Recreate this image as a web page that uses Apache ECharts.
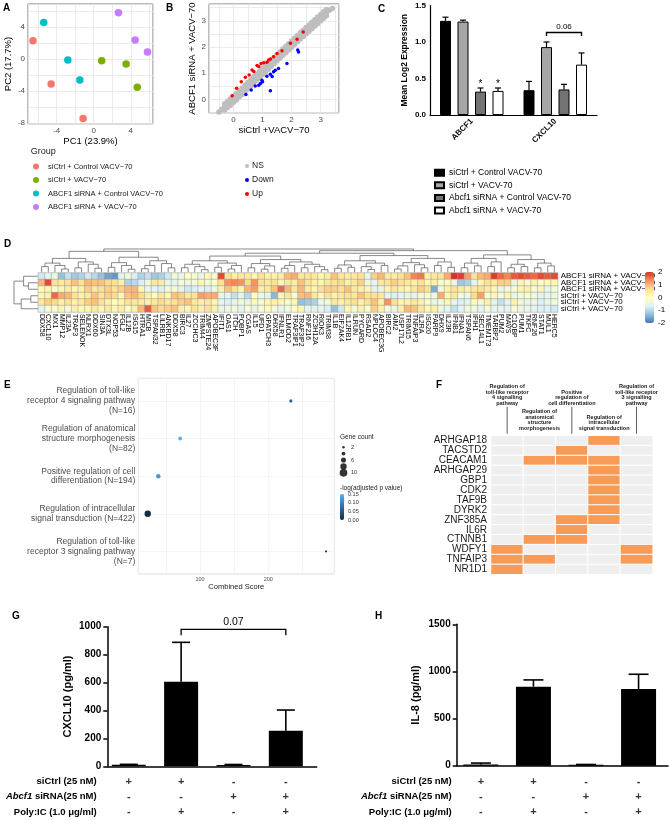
<!DOCTYPE html>
<html>
<head>
<meta charset="utf-8">
<script src="https://cdn.jsdelivr.net/npm/echarts@6/dist/echarts.min.js"></script>
<style>
  html, body { margin: 0; padding: 0; background: #fff; }
  #chart { width: 670px; height: 820px; }
</style>
</head>
<body>
<div id="chart"></div>
<script>
// ---------- A: PCA ----------
const pcaGroups = ['siCtrl + Control VACV\u221270', 'siCtrl + VACV\u221270', 'ABCF1 siRNA + Control VACV\u221270', 'ABCF1 siRNA + VACV\u221270'];
const pcaColors = ['#F8766D', '#7CAE00', '#00BFC4', '#C77CFF'];
const pcaCtrlCtrl = [[-6.56, 2.3], [-4.6, -3.1], [-1.15, -7.4]];
const pcaCtrlVacv = [[0.86, -0.2], [3.5, -0.6], [4.7, -3.5]];
const pcaAbcfCtrl = [[-5.4, 4.6], [-2.8, -0.1], [-1.5, -2.6]];
const pcaAbcfVacv = [[2.67, 5.8], [4.47, 2.4], [5.8, 0.9]];

// ---------- B: scatter siCtrl vs ABCF1 siRNA ----------
const scatterNS = [
  [-0.66, -0.66], [-0.5, -0.48], [-0.4, -0.38], [-0.3, -0.29], [-0.2, -0.19], [-0.1, -0.1], [0, 0], [0.1, 0.1],
  [0.2, 0.21], [0.3, 0.31], [0.4, 0.42], [0.5, 0.53], [0.6, 0.63], [0.7, 0.74], [0.8, 0.85], [0.9, 0.95],
  [1.0, 1.06], [1.1, 1.17], [1.2, 1.27], [1.3, 1.38], [1.4, 1.48], [1.5, 1.59], [1.6, 1.69], [1.7, 1.8],
  [1.8, 1.9], [1.9, 2.0], [2.0, 2.11], [2.1, 2.21], [2.2, 2.32], [2.3, 2.42], [2.4, 2.52], [2.5, 2.62],
  [2.6, 2.72], [2.7, 2.82], [2.8, 2.92], [2.9, 3.02], [3.0, 3.12], [3.1, 3.22], [3.2, 3.31], [3.3, 3.4], [3.4, 3.47],
  [-0.3, -0.17], [-0.2, -0.07], [-0.1, 0.02], [0, 0.12], [0.1, 0.22], [0.2, 0.33], [0.3, 0.43], [0.4, 0.54],
  [0.5, 0.65], [0.6, 0.75], [0.7, 0.86], [0.8, 0.97], [0.9, 1.07], [1.0, 1.18], [1.1, 1.29], [1.2, 1.39],
  [1.3, 1.5], [1.4, 1.6], [1.5, 1.71], [1.6, 1.81], [1.7, 1.92], [1.8, 2.02], [1.9, 2.12], [2.0, 2.23],
  [2.1, 2.33], [2.2, 2.44], [2.3, 2.54], [2.4, 2.64], [2.5, 2.74], [2.6, 2.84], [2.7, 2.94], [2.8, 3.04],
  [2.9, 3.14], [3.0, 3.24], [3.1, 3.34], [3.2, 3.43],
  [-0.3, -0.41], [-0.2, -0.31], [-0.1, -0.22], [0, -0.12], [0.1, -0.02], [0.2, 0.09], [0.3, 0.19], [0.4, 0.3],
  [0.5, 0.41], [0.6, 0.51], [0.7, 0.62], [0.8, 0.73], [0.9, 0.83], [1.0, 0.94], [1.1, 1.05], [1.2, 1.15],
  [1.3, 1.26], [1.4, 1.36], [1.5, 1.47], [1.6, 1.57], [1.7, 1.68], [1.8, 1.78], [1.9, 1.88], [2.0, 1.99],
  [2.1, 2.09], [2.2, 2.2], [2.3, 2.3], [2.4, 2.4], [2.5, 2.5], [2.6, 2.6], [2.7, 2.7], [2.8, 2.8],
  [2.9, 2.9], [3.0, 3.0], [3.1, 3.1], [3.2, 3.19]
];
const scatterDown = [
  [0.43, 0.19], [0.61, 0.36], [0.75, 0.51], [0.87, 0.54], [0.93, 0.61], [0.98, 0.73], [1.0, 0.67], [1.15, 0.88],
  [1.27, 0.96], [1.33, 0.87], [1.38, 1.05], [1.44, 1.11], [1.55, 1.18], [1.84, 1.37], [2.21, 1.88], [2.24, 1.81],
  [1.27, 0.33]
];
const scatterUp = [
  [-0.045, 0.14], [0.11, 0.42], [0.27, 0.67], [0.41, 0.84], [0.54, 0.93], [0.64, 1.12], [0.7, 1.06], [0.81, 1.29],
  [0.87, 1.25], [0.95, 1.37], [1.04, 1.4], [1.15, 1.42], [1.21, 1.5], [1.27, 1.54], [1.38, 1.63], [1.5, 1.75],
  [1.67, 1.86], [1.96, 2.14], [2.19, 2.29], [2.4, 2.57]
];

// ---------- C: mean log2 expression ----------
const cGenes = ['ABCF1', 'CXCL10'];
const cGroups = ['siCtrl + Control VACV-70', 'siCtrl + VACV-70', 'Abcf1 siRNA + Control VACV-70', 'Abcf1 siRNA + VACV-70'];
const cColors = ['#000000', '#a6a6a6', '#737373', '#ffffff'];
const cMeans = [[1.29, 0.34], [1.28, 0.93], [0.32, 0.35], [0.33, 0.69]];
const cErr = [[0.05, 0.12], [0.02, 0.07], [0.05, 0.07], [0.04, 0.16]];
const cSig = [['', ''], ['', ''], ['*', ''], ['*', '']];
const cBracket = [[1, 1, 3, 1.13, '0.06']];

// ---------- D: heatmap ----------
const dGenes = ['DDX58', 'CXCL10', 'MX1', 'MMP12', 'IL23A', 'TRAF3', 'SELENOK', 'NLRX1', 'DDX60', 'SIN3A',
  'DTX3L', 'NOP53', 'FGL2', 'IL12B', 'ISG15', 'HTRA1', 'MICB', 'TSPAN32', 'LILRB1', 'ANKRD17',
  'DDX58', 'BIRC3', 'IL27', 'ZCCHC3', 'TRIM44', 'ZMPSTE24', 'APOBEC3F', 'IFIT1', 'OAS1', 'ITCH',
  'PQBP1', 'CGAS', 'IL15', 'UFD1', 'GPATCH3', 'DHX58', 'IFNLR1', 'ELMOD2', 'TRAF3IP1', 'TRAF3IP2',
  'RNF216', 'ZC3H12A', 'RIOK3', 'TRIM38', 'IL1B', 'EIF2AK4', 'IL12RB1', 'ILRUN', 'PYCARD', 'RSAD2',
  'NPLOC4', 'APOBEC3G', 'BIRC2', 'AIM2', 'USP17L2', 'TRIM15', 'TNFAIP3', 'IL2RA', 'ISG20', 'PARP9',
  'DHX9', 'IL23R', 'IFNB1', 'IFNA1', 'TSPAN6', 'IFIH1', 'SEC14L1', 'TMEM173', 'TARBP2', 'PUM2',
  'MAVS', 'C1QBP', 'PUM1', 'TKFC', 'RNF26', 'STAT1', 'MUL1', 'HERC5'];
const dSamples = ['ABCF1 siRNA + VACV\u221270', 'ABCF1 siRNA + VACV\u221270', 'ABCF1 siRNA + VACV\u221270',
  'siCtrl + VACV\u221270', 'siCtrl + VACV\u221270', 'siCtrl + VACV\u221270'];
const dRow1 = [-0.8, -0.6, -0.4, -1.3, -0.9, -1.2, -1.1, -0.8, -1.0, -1.3, -1.6, -1.7, -0.6, -0.3, -0.7, -1.1, -0.9, -1.2, -1.1, -0.8,
  -0.3, -0.5, 0.0, -0.2, -0.5, 0.1, -0.2, 1.8, 0.6, 0.3, 0.5, 0.5, 0.2, 0.6, 0.3, 0.3, 0.4, 1.0, 1.1, 0.5,
  0.6, 0.5, 0.2, 0.4, 0.9, 0.5, 0.4, 0.5, 0.6, -0.5, 0.8, 1.0, 0.5, 0.4, 0.6, 0.9, 1.4, 1.5, 0.3, 0.5,
  0.6, 1.1, 2.0, 1.9, 1.2, 0.6, 1.0, 1.1, 1.9, 1.6, 1.4, 1.7, 1.8, 1.7, 1.6, 1.8, 1.7, 1.8];
const dRow2 = [1.0, 1.8, 0.6, 0.5, 0.6, 0.9, 0.6, 1.0, 0.9, 0.9, 0.7, 0.6, 0.3, -1.1, -1.0, -0.7, -0.4, 0.5, 0.4, -0.5,
  -0.6, -0.2, -0.4, -0.3, 0.2, -0.3, 0.0, 0.6, 1.3, 1.4, 1.3, 0.7, 1.3, 0.6, 0.5, 0.6, 0.2, 0.5, 0.4, 0.9,
  0.6, 0.3, 0.2, 0.5, 0.6, 0.7, 0.3, 0.5, 0.8, -0.4, -0.6, 0.5, 0.6, 0.8, 0.6, 0.5, 0.3, 0.6, 0.2, 0.3,
  -0.2, 0.1, -0.5, -1.2, -1.1, -0.6, 0.2, 0.6, 0.5, 0.8, 0.8, -0.5, 0.2, -0.2, 0.3, -0.2, 0.1, 0.2];
const dRow3 = [0.1, 0.2, -0.2, 0.2, 0.4, 0.2, 0.3, 0.8, 0.5, 0.6, 0.8, 0.6, 0.8, 1.0, 1.0, 0.2, -0.5, -0.6, -0.7, -0.3,
  -0.2, -0.6, -0.8, -0.7, -0.6, -0.7, -0.4, 0.3, 0.9, 0.6, 0.2, 1.0, 1.2, 0.3, 0.5, 0.9, 1.6, 1.0, 0.5, 1.0,
  0.4, 0.2, 0.6, 0.8, 0.8, 0.6, 0.9, 0.5, 0.3, 0.2, -0.6, -0.5, 0.2, 0.5, 0.3, 0.2, 0.5, 0.8, 0.6, -1.5,
  -0.3, 0.3, 0.6, 0.4, 0.3, 0.5, 0.6, 0.4, 0.2, -0.5, -0.3, -0.2, 0.2, 0.3, -0.3, 0.2, -0.5, -0.3];
const dRow4 = [0.2, 0.3, 1.6, 1.1, 1.0, 0.6, 0.3, 0.5, 0.9, 0.6, 0.8, 0.7, 0.2, 0.9, 1.0, 0.7, 0.3, 0.1, 0.5, 0.2,
  0.9, 0.8, 0.5, 0.6, 1.2, 1.1, 1.1, -0.5, -0.6, -0.9, -0.6, -1.0, 0.0, -0.4, -0.6, -1.4, 0.2, 0.5, -0.2, 0.9,
  1.0, 0.5, 0.1, 0.6, 0.3, 0.5, 0.6, 0.5, 0.9, 0.6, 0.6, 0.5, -0.6, -0.7, -0.6, -0.5, -0.6, -0.3, -0.2, -0.4,
  1.1, 0.2, 0.5, -0.3, -0.4, 0.7, 1.2, -0.2, 0.1, -0.3, 0.2, -0.5, -0.3, -0.2, -0.3, -0.6, -0.5, -0.4];
const dRow5 = [0.5, 0.8, 0.7, 0.3, 0.6, 0.3, 0.5, 0.8, 0.9, 0.6, 0.3, 0.0, 0.2, 0.6, 0.5, 0.4, 0.3, 0.5, 0.7, 0.5,
  0.6, 0.8, 0.9, 0.5, 0.3, 0.5, 0.2, -0.6, -0.7, -0.5, -0.3, -0.5, 0.1, -0.3, 0.2, 0.3, 0.2, -0.2, 0.2, -1.3,
  -1.2, -1.1, -0.4, -0.3, 0.5, 0.3, 0.5, 0.6, 0.3, 0.6, 0.9, 0.3, 1.3, 0.6, 0.2, 0.3, 0.5, 0.3, -0.2, -0.5,
  -0.3, 0.2, -0.5, -0.7, -0.6, 0.1, -0.2, 0.3, -0.6, -0.9, -0.6, 0.3, -0.3, -0.5, -0.4, -0.7, -0.5, -0.3];
const dRow6 = [-0.6, -0.2, -0.2, 0.2, -0.3, 0.3, 0.1, 0.2, 0.4, 0.2, 0.5, 0.2, 0.4, -0.2, 0.3, 1.0, 1.7, 0.9, 0.7, 0.8,
  0.9, 0.3, 0.2, 0.6, 0.3, 0.6, 0.3, -0.5, -0.4, -0.3, -0.6, -0.2, -0.5, -0.2, 0.1, -0.3, -0.6, -0.3, 0.0, 0.2,
  -0.5, -0.6, -0.5, -0.7, -1.3, -0.8, 0.2, -0.3, 0.3, -0.2, 0.8, 0.3, -0.3, -0.5, 0.3, 1.0, 0.9, 0.5, 0.2, 0.3,
  -0.4, -0.6, -0.9, -0.6, -0.3, -0.4, -0.6, -0.3, -0.5, -0.6, -0.6, -0.2, -0.4, -0.5, -0.6, -0.7, -0.7, -0.8];
// dendrograms: [height, left, right], leaves are column / row indices
const dColTree = [1.0,
  [0.9,
    [0.6, [0.4, [0.25, 0, 1], [0.3, 2, [0.15, 3, 4]]], [0.45, [0.2, 5, 6], [0.35, 7, [0.18, 8, 9]]]],
    [0.65, [0.42, [0.22, 10, 11], [0.3, 12, [0.14, 13, 14]]], [0.5, [0.3, [0.16, 15, 16], 17], [0.38, 18, [0.2, 19, 20]]]]],
  [0.93,
    [0.82,
      [0.7, [0.5, [0.35, [0.2, 21, 22], [0.25, 23, [0.12, 24, 25]]], [0.4, [0.22, 26, 27], [0.3, [0.15, 28, 29], 30]]],
        [0.55, [0.38, [0.2, 31, 32], [0.28, [0.14, 33, 34], 35]], [0.45, [0.3, [0.18, 36, 37], 38], [0.35, [0.2, 39, 40], [0.25, 41, [0.12, 42, 43]]]]]],
      [0.72, [0.5, [0.32, [0.18, 44, 45], [0.22, 46, 47]], [0.4, [0.25, 48, [0.13, 49, 50]], [0.3, 51, 52]]],
        [0.6, [0.42, [0.28, [0.15, 53, 54], 55], [0.33, 56, [0.2, 57, 58]]], [0.45, [0.3, 59, 60], [0.22, 61, 62]]]]],
    [0.75,
      [0.6, [0.4, [0.2, 63, 64], [0.28, 65, 66]], [0.45, [0.25, 67, 68], 69]],
      [0.55, [0.35, [0.2, 70, 71], [0.25, 72, 73]], [0.4, [0.2, 74, 75], [0.28, 76, 77]]]]]];
const dRowTree = [1.0, [0.6, 0, [0.4, 1, 2]], [0.7, [0.3, 3, 4], 5]];

// ---------- E: enrichment dot plot ----------
const eTerms = ['Regulation of toll-like\nreceptor 4 signaling pathway\n(N=16)',
  'Regulation of anatomical\nstructure morphogenesis\n(N=82)',
  'Positive regulation of cell\ndifferentiation (N=194)',
  'Regulation of intracellular\nsignal transduction (N=422)',
  'Regulation of toll-like\nreceptor 3 signaling pathway\n(N=7)'];
const eScore = [233, 71, 39, 23.5, 284.5];
const ePval = [0.06, 0.15, 0.12, 0.0, 0.03];
const eGeneCount = [3, 4, 5, 8, 1.5];
const eSizeLegend = [2, 4, 6, 8, 10];

// ---------- F: gene / term membership ----------
const fTerms = ['Regulation of\ntoll-like receptor\n4 signalling\npathway', 'Regulation of\nanatomical\nstructure\nmorphogenesis',
  'Positive\nregulation of\ncell differentiation', 'Regulation of\nintracellular\nsignal transduction',
  'Regulation of\ntoll-like receptor\n3 signalling\npathway'];
const fGenes = ['ARHGAP18', 'TACSTD2', 'CEACAM1', 'ARHGAP29', 'GBP1', 'CDK2', 'TAF9B', 'DYRK2', 'ZNF385A', 'IL6R', 'CTNNB1', 'WDFY1', 'TNFAIP3', 'NR1D1'];
const fMember = [
  [0, 0, 0, 1, 0], [0, 0, 1, 0, 0], [0, 1, 1, 1, 0], [0, 0, 0, 1, 0], [0, 0, 0, 1, 0], [0, 0, 0, 1, 0], [0, 0, 0, 1, 0],
  [0, 0, 0, 1, 0], [0, 0, 1, 1, 0], [0, 0, 1, 0, 0], [0, 1, 1, 0, 0], [1, 0, 0, 0, 1], [1, 1, 0, 0, 1], [1, 0, 0, 0, 0]];

// ---------- G / H: ELISA ----------
const gMeans = [11, 606, 10, 255];
const gErr = [3, 282, 3, 148];
const gBracket = [[1, 3, 981, '0.07']];
const hMeans = [14, 838, 9, 814];
const hErr = [14, 72, 4, 156];
const tableRows = ['siCtrl (25 nM)', 'Abcf1 siRNA(25 nM)', 'Poly:IC (1.0 \u03bcg/ml)'];
const siCtrlMarks = ['+', '+', '-', '-'];
const abcfMarks = ['-', '-', '+', '+'];
const polyMarks = ['-', '+', '-', '+'];

const FONT = '"Liberation Sans", Arial, Helvetica, sans-serif';
const chart = echarts.init(document.getElementById('chart'));

const C_BAR_W = 11, C_BAR_GAP = 6.5;

function buildDendro(node, segs) {
  if (typeof node === 'number') return { p: node + 0.5, h: 0 };
  const a = buildDendro(node[1], segs);
  const b = buildDendro(node[2], segs);
  segs.push([a.p, a.h, a.p, node[0], b.p, node[0], b.p, b.h]);
  return { p: (a.p + b.p) / 2, h: node[0] };
}
const colSegs = [];
buildDendro(dColTree, colSegs);
const rowSegs = [];
buildDendro(dRowTree, rowSegs);

function dendroItem(swap) {
  return function (params, api) {
    const pts = [];
    for (let k = 0; k < 4; k++) {
      const p = api.value(2 * k), h = api.value(2 * k + 1);
      pts.push(api.coord(swap ? [h, p] : [p, h]));
    }
    return { type: 'polyline', shape: { points: pts }, style: { stroke: '#555', lineWidth: 0.7, fill: null } };
  };
}

function errItem(capHalf, width) {
  return function (params, api) {
    const x = api.value(0), m = api.value(1), e = api.value(2);
    const p0 = api.coord([x, m]);
    const p1 = api.coord([x, m + e]);
    return {
      type: 'group', children: [
        { type: 'line', shape: { x1: p0[0], y1: p0[1], x2: p1[0], y2: p1[1] }, style: { stroke: '#000', lineWidth: width } },
        { type: 'line', shape: { x1: p1[0] - capHalf, y1: p1[1], x2: p1[0] + capHalf, y2: p1[1] }, style: { stroke: '#000', lineWidth: width } }
      ]
    };
  };
}

function bracketItem(drop, fontSize, offsetFn) {
  return function (params, api) {
    const y = api.value(3 - (offsetFn ? 0 : 1));
    let a, b;
    if (offsetFn) {
      const cat = api.value(0);
      const c = api.coord([cat, y]);
      a = [c[0] + offsetFn(api.value(1)), c[1]];
      b = [c[0] + offsetFn(api.value(2)), c[1]];
    } else {
      a = api.coord([api.value(0), y]);
      b = api.coord([api.value(1), y]);
    }
    const label = offsetFn ? cBracket[params.dataIndex][4] : gBracket[params.dataIndex][3];
    return {
      type: 'group', children: [
        { type: 'polyline', shape: { points: [[a[0], a[1] + drop], a, b, [b[0], a[1] + drop]] }, style: { stroke: '#000', lineWidth: 1.3, fill: null } },
        { type: 'text', style: { text: label, x: (a[0] + b[0]) / 2, y: a[1] - 2, align: 'center', verticalAlign: 'bottom', fontSize: fontSize, fontFamily: FONT, fill: '#000' } }
      ]
    };
  };
}
const cOffset = s => (s - 1.5) * (C_BAR_W + C_BAR_GAP);

function cErrItem(params, api) {
  const cat = api.value(0), s = api.value(1), m = api.value(2), e = api.value(3);
  const c0 = api.coord([cat, m]);
  const c1 = api.coord([cat, m + e]);
  const x = c0[0] + cOffset(s);
  const children = [
    { type: 'line', shape: { x1: x, y1: c0[1], x2: x, y2: c1[1] }, style: { stroke: '#000', lineWidth: 1.2 } },
    { type: 'line', shape: { x1: x - 3, y1: c1[1], x2: x + 3, y2: c1[1] }, style: { stroke: '#000', lineWidth: 1.2 } }
  ];
  const sig = cSig[s][cat];
  if (sig) children.push({ type: 'text', style: { text: sig, x: x, y: c1[1] + 1, align: 'center', verticalAlign: 'bottom', fontSize: 10, fontFamily: FONT, fill: '#000' } });
  return { type: 'group', children: children };
}

const ggTick = v => (Math.abs(v % 4) < 1e-9 ? String(v) : '');
const ggTick1 = v => (Math.abs(v % 1) < 1e-9 ? String(v) : '');
const hideAxis = { show: false };

const grids = [
  { left: 28, top: 4, width: 125, height: 120, show: true, borderColor: '#555', borderWidth: 0.8 },        // 0 A
  { left: 209, top: 4, width: 130, height: 109, show: true, borderColor: '#555', borderWidth: 0.8 },       // 1 B
  { left: 430, top: 5.5, width: 167, height: 109.5 },                                                      // 2 C
  { left: 38.3, top: 249, width: 519.4, height: 23.5 },                                                    // 3 D col dendro
  { left: 14, top: 273, width: 24, height: 39 },                                                           // 4 D row dendro
  { left: 38.3, top: 273, width: 519.4, height: 39 },                                                      // 5 D heatmap
  { left: 645, top: 272, width: 9, height: 51 },                                                           // 6 D colour key
  { left: 138.3, top: 378.3, width: 196, height: 195.7, show: true, borderColor: '#cfcfcf', borderWidth: 0.8 }, // 7 E
  { left: 340, top: 444, width: 7, height: 32 },                                                           // 8 E size key
  { left: 340, top: 494, width: 4, height: 26 },                                                           // 9 E colour key
  { left: 491, top: 435.7, width: 161.7, height: 138.6 },                                                  // 10 F
  { left: 107.3, top: 626.7, width: 209.4, height: 139.6 },                                                // 11 G
  { left: 107.3, top: 774, width: 209.4, height: 45.6 },                                                   // 12 G table
  { left: 456.7, top: 624.3, width: 211.3, height: 141.4 },                                                // 13 H
  { left: 456.7, top: 774, width: 211.3, height: 45.6 }                                                    // 14 H table
].map(g => Object.assign({ outerBoundsMode: 'none', containLabel: false }, g));

const ggAxisLabel = { fontSize: 8, color: '#4d4d4d', margin: 3, showMinLabel: false, showMaxLabel: false };
const prismY = (max, interval, name, gap) => ({
  type: 'value', min: 0, max: max, interval: interval, name: name, nameLocation: 'middle', nameGap: gap,
  nameTextStyle: { fontSize: 11, fontWeight: 'bold', color: '#000', fontFamily: FONT },
  axisLine: { show: true, onZero: false, lineStyle: { color: '#000', width: 1.5 } },
  axisTick: { show: true, inside: false, length: 4, lineStyle: { color: '#000', width: 1.5 } },
  axisLabel: { fontSize: 10, fontWeight: 'bold', color: '#000', margin: 6, fontFamily: FONT, formatter: v => String(v) },
  splitLine: { show: false }
});

const xAxes = [
  { gridIndex: 0, type: 'value', min: -7.1, max: 6.4, splitNumber: 7, name: 'PC1 (23.9%)', nameLocation: 'middle', nameGap: 11,
    nameTextStyle: { fontSize: 9.5, color: '#000' }, axisLine: { show: false }, axisTick: { show: false },
    axisLabel: Object.assign({ formatter: ggTick }, ggAxisLabel), splitLine: { lineStyle: { color: '#e6e6e6', width: 0.8 } } },
  { gridIndex: 1, type: 'value', min: -0.84, max: 3.63, splitNumber: 9, name: 'siCtrl +VACV\u221270', nameLocation: 'middle', nameGap: 12,
    nameTextStyle: { fontSize: 9.5, color: '#000' }, axisLine: { show: false }, axisTick: { show: false },
    axisLabel: Object.assign({ formatter: ggTick1 }, ggAxisLabel), splitLine: { lineStyle: { color: '#e6e6e6', width: 0.8 } } },
  { gridIndex: 2, type: 'category', data: cGenes,
    axisLine: { lineStyle: { color: '#000', width: 1.2 } },
    axisTick: { alignWithLabel: true, length: 3, lineStyle: { color: '#000', width: 1.2 } },
    axisLabel: { rotate: 45, fontSize: 8, fontWeight: 'bold', color: '#000', margin: 5 } },
  { gridIndex: 3, type: 'value', min: 0, max: dGenes.length, show: false },
  { gridIndex: 4, type: 'value', min: 0, max: 1, inverse: true, show: false },
  { gridIndex: 5, type: 'category', data: dGenes, axisLine: hideAxis, axisTick: hideAxis,
    axisLabel: { rotate: -90, interval: 0, fontSize: 7, color: '#000', margin: 2 } },
  { gridIndex: 6, type: 'category', data: [''], show: false },
  { gridIndex: 7, type: 'value', min: 9.7, max: 296.6, splitNumber: 5, name: 'Combined Score', nameLocation: 'middle', nameGap: 8,
    nameTextStyle: { fontSize: 7.5, color: '#1a1a1a' }, axisLine: hideAxis, axisTick: hideAxis,
    axisLabel: { fontSize: 5.5, color: '#4d4d4d', margin: 2, showMinLabel: false, showMaxLabel: false, formatter: v => (v % 100 === 0 ? String(v) : '') },
    splitLine: { lineStyle: { color: '#f0f0f0', width: 0.7 } } },
  { gridIndex: 8, type: 'value', min: -1, max: 1, show: false },
  { gridIndex: 9, type: 'value', min: 0, max: 1, show: false },
  { gridIndex: 10, type: 'category', data: fTerms, show: false },
  { gridIndex: 11, type: 'value', min: -0.41, max: 3.59, axisLine: { onZero: false, lineStyle: { color: '#000', width: 1.5 } },
    axisTick: hideAxis, axisLabel: hideAxis, splitLine: hideAxis },
  { gridIndex: 12, type: 'value', min: -0.41, max: 3.59, show: false },
  { gridIndex: 13, type: 'value', min: -0.46, max: 3.56, axisLine: { onZero: false, lineStyle: { color: '#000', width: 1.5 } },
    axisTick: hideAxis, axisLabel: hideAxis, splitLine: hideAxis },
  { gridIndex: 14, type: 'value', min: -0.46, max: 3.56, show: false }
];

const tableAxis = (grid, margin) => ({
  gridIndex: grid, type: 'category', data: tableRows, inverse: true, axisLine: hideAxis, axisTick: hideAxis,
  axisLabel: {
    margin: margin, fontSize: 9.5, fontWeight: 'bold', color: '#000', fontFamily: FONT,
    formatter: v => (v.indexOf('Abcf1') === 0 ? '{it|Abcf1}' + v.slice(5) : v),
    rich: { it: { fontStyle: 'italic', fontWeight: 'bold', fontSize: 9.5, color: '#000', fontFamily: FONT } }
  }
});

const yAxes = [
  { gridIndex: 0, type: 'value', min: -8.1, max: 6.9, splitNumber: 7, name: 'PC2 (17.7%)', nameLocation: 'middle', nameGap: 15,
    nameTextStyle: { fontSize: 9.5, color: '#000' }, axisLine: { show: false }, axisTick: { show: false },
    axisLabel: Object.assign({ formatter: ggTick }, ggAxisLabel), splitLine: { lineStyle: { color: '#e6e6e6', width: 0.8 } } },
  { gridIndex: 1, type: 'value', min: -0.52, max: 3.64, splitNumber: 9, name: 'ABCF1 siRNA + VACV\u221270', nameLocation: 'middle', nameGap: 12,
    nameTextStyle: { fontSize: 9.5, color: '#000' }, axisLine: { show: false }, axisTick: { show: false },
    axisLabel: Object.assign({ formatter: ggTick1 }, ggAxisLabel), splitLine: { lineStyle: { color: '#e6e6e6', width: 0.8 } } },
  { gridIndex: 2, type: 'value', min: 0, max: 1.5, interval: 0.5, name: 'Mean Log2 Expression', nameLocation: 'middle', nameGap: 21,
    nameTextStyle: { fontSize: 8.5, fontWeight: 'bold', color: '#000' },
    axisLine: { show: true, onZero: false, lineStyle: { color: '#000', width: 1.2 } },
    axisTick: { length: 3, lineStyle: { color: '#000', width: 1.2 } },
    axisLabel: { fontSize: 8, fontWeight: 'bold', color: '#000', margin: 4, formatter: v => v.toFixed(1) }, splitLine: hideAxis },
  { gridIndex: 3, type: 'value', min: 0, max: 1, show: false },
  { gridIndex: 4, type: 'value', min: 0, max: dSamples.length, inverse: true, show: false },
  { gridIndex: 5, type: 'category', data: dSamples, inverse: true, position: 'right', axisLine: hideAxis, axisTick: hideAxis,
    axisLabel: { fontSize: 8, color: '#000', margin: 3, interval: 0 } },
  { gridIndex: 6, type: 'value', min: -2, max: 2, interval: 1, position: 'right', axisLine: hideAxis, axisTick: hideAxis,
    axisLabel: { fontSize: 8, color: '#000', margin: 4 }, splitLine: hideAxis },
  { gridIndex: 7, type: 'value', min: 0.4, max: 5.6, inverse: true, axisLine: hideAxis, axisTick: hideAxis,
    axisLabel: { fontSize: 8.5, lineHeight: 9.8, color: '#4d4d4d', margin: 3, align: 'right', showMinLabel: false, showMaxLabel: false,
      formatter: v => (Number.isInteger(v) && v >= 1 && v <= eTerms.length ? eTerms[v - 1] : '') },
    splitLine: { lineStyle: { color: '#f0f0f0', width: 0.7 } } },
  { gridIndex: 8, type: 'category', data: eSizeLegend.map(String), inverse: true, position: 'right', axisLine: hideAxis, axisTick: hideAxis,
    axisLabel: { fontSize: 5.5, color: '#333', margin: 4 } },
  { gridIndex: 9, type: 'value', min: 0, max: 0.15, interval: 0.05, position: 'right', axisLine: hideAxis, axisTick: hideAxis,
    axisLabel: { fontSize: 5.5, color: '#333', margin: 4, formatter: v => v.toFixed(2) }, splitLine: hideAxis },
  { gridIndex: 10, type: 'category', data: fGenes, inverse: true, axisLine: hideAxis, axisTick: hideAxis,
    axisLabel: { fontSize: 10, color: '#1a1a1a', margin: 4, interval: 0 } },
  prismY(1000, 200, 'CXCL10 (pg/ml)', 34),
  tableAxis(12, 10.6),
  prismY(1500, 500, 'IL-8 (pg/ml)', 35),
  tableAxis(14, 5)
];
yAxes[11].gridIndex = 11;
yAxes[13].gridIndex = 13;

const series = [];
// A
[pcaCtrlCtrl, pcaCtrlVacv, pcaAbcfCtrl, pcaAbcfVacv].forEach((d, i) => series.push({
  type: 'scatter', name: pcaGroups[i], xAxisIndex: 0, yAxisIndex: 0, data: d, symbolSize: 7.5,
  itemStyle: { color: pcaColors[i], opacity: 1 }, silent: true
}));
// B
[['NS', scatterNS, '#bebebe', 5.5], ['Down', scatterDown, '#0000ff', 3.5], ['Up', scatterUp, '#ff0000', 3.5]].forEach(s => series.push({
  type: 'scatter', name: s[0], xAxisIndex: 1, yAxisIndex: 1, data: s[1], symbolSize: s[3],
  itemStyle: { color: s[2], opacity: 1 }, silent: true
}));
// C
cGroups.forEach((g, s) => series.push({
  type: 'bar', name: g, xAxisIndex: 2, yAxisIndex: 2, data: cMeans[s], barWidth: C_BAR_W, barGap: (C_BAR_GAP / C_BAR_W * 100) + '%',
  itemStyle: { color: cColors[s], borderColor: '#000', borderWidth: 1 }, silent: true
}));
const cErrData = [];
cGroups.forEach((g, s) => cGenes.forEach((gene, cat) => cErrData.push([cat, s, cMeans[s][cat], cErr[s][cat]])));
series.push({ type: 'custom', xAxisIndex: 2, yAxisIndex: 2, data: cErrData, renderItem: cErrItem, z: 5, silent: true });
series.push({ type: 'custom', xAxisIndex: 2, yAxisIndex: 2, data: cBracket.map(b => b.slice(0, 4)), renderItem: bracketItem(3.5, 8, cOffset), z: 5, silent: true });
// D
series.push({ type: 'custom', xAxisIndex: 3, yAxisIndex: 3, data: colSegs, renderItem: dendroItem(false), silent: true });
series.push({ type: 'custom', xAxisIndex: 4, yAxisIndex: 4, data: rowSegs, renderItem: dendroItem(true), silent: true });
const dHeat = [];
[dRow1, dRow2, dRow3, dRow4, dRow5, dRow6].forEach((row, r) => row.forEach((v, c) => dHeat.push([c, r, v])));
const dSeriesIndex = series.length;
series.push({ type: 'heatmap', xAxisIndex: 5, yAxisIndex: 5, data: dHeat, itemStyle: { borderColor: '#9a9a9a', borderWidth: 0.5 }, silent: true });
// E
const eSize = c => 1.2 + 0.65 * c;
const eSeriesIndex = series.length;
series.push({ type: 'scatter', xAxisIndex: 7, yAxisIndex: 7, data: eScore.map((s, i) => [s, i + 1, ePval[i], eGeneCount[i]]),
  symbolSize: v => eSize(v[3]), itemStyle: { opacity: 1 }, silent: true });
series.push({ type: 'scatter', xAxisIndex: 8, yAxisIndex: 8, data: eSizeLegend.map((c, i) => [0, i, c]),
  symbolSize: v => eSize(v[2]), itemStyle: { color: '#000' }, silent: true });
// F
const fHeat = [];
fMember.forEach((row, r) => row.forEach((v, c) => fHeat.push([c, r, v])));
const fSeriesIndex = series.length;
series.push({ type: 'heatmap', xAxisIndex: 10, yAxisIndex: 10, data: fHeat, itemStyle: { borderColor: '#fff', borderWidth: 1 }, silent: true });
// G
series.push({ type: 'bar', xAxisIndex: 11, yAxisIndex: 11, data: gMeans.map((m, i) => [i, m]), barWidth: 34, itemStyle: { color: '#000' }, silent: true });
series.push({ type: 'custom', xAxisIndex: 11, yAxisIndex: 11, data: gMeans.map((m, i) => [i, m, gErr[i]]), renderItem: errItem(9, 1.6), z: 5, silent: true });
series.push({ type: 'custom', xAxisIndex: 11, yAxisIndex: 11, data: gBracket.map(b => b.slice(0, 3)), renderItem: bracketItem(6, 10.5, null), z: 5, silent: true });
// H
series.push({ type: 'bar', xAxisIndex: 13, yAxisIndex: 13, data: hMeans.map((m, i) => [i, m]), barWidth: 35, itemStyle: { color: '#000' }, silent: true });
series.push({ type: 'custom', xAxisIndex: 13, yAxisIndex: 13, data: hMeans.map((m, i) => [i, m, hErr[i]]), renderItem: errItem(10, 1.6), z: 5, silent: true });
// tables
[12, 14].forEach(ax => [siCtrlMarks, abcfMarks, polyMarks].forEach((marks, r) => series.push({
  type: 'scatter', xAxisIndex: ax, yAxisIndex: ax, data: marks.map((m, i) => [i, r, m]), symbolSize: 1,
  itemStyle: { color: 'transparent' }, silent: true,
  label: { show: true, position: 'inside', formatter: p => p.value[2], fontSize: 11, fontWeight: 'bold', color: '#000', fontFamily: FONT }
})));

const letter = (t, x, y) => ({ type: 'text', x: x, y: y, style: { text: t, fontSize: 10, fontWeight: 'bold', fill: '#000', fontFamily: FONT } });
const note = (t, x, y, size) => ({ type: 'text', x: x, y: y, style: { text: t, fontSize: size, fill: '#1a1a1a', fontFamily: FONT, verticalAlign: 'middle' } });

const option = {
  animation: false,
  backgroundColor: '#fff',
  textStyle: { fontFamily: FONT },
  grid: grids,
  xAxis: xAxes,
  yAxis: yAxes,
  legend: [
    { data: pcaGroups, orient: 'vertical', left: 33, top: 162, padding: 0, itemWidth: 6, itemHeight: 6, itemGap: 4.5, icon: 'circle',
      selectedMode: false, textStyle: { fontSize: 7.5, color: '#1a1a1a', lineHeight: 9, padding: [0, 0, 0, 4] } },
    { data: ['NS', 'Down', 'Up'], orient: 'vertical', left: 245, top: 161, padding: 0, itemWidth: 4, itemHeight: 4, itemGap: 4, icon: 'circle',
      selectedMode: false, textStyle: { fontSize: 8.5, color: '#1a1a1a', lineHeight: 10, padding: [0, 0, 0, -2] } },
    { data: cGroups, orient: 'vertical', left: 434, top: 167.7, padding: 0, itemWidth: 9, itemHeight: 6, itemGap: 2.6, icon: 'rect',
      selectedMode: false, textStyle: { fontSize: 8.5, color: '#000', lineHeight: 10 } }
  ],
  visualMap: [
    { type: 'continuous', seriesIndex: dSeriesIndex, dimension: 2, min: -2, max: 2, show: true, calculable: false,
      left: 645, top: 272, itemWidth: 9, itemHeight: 51, padding: 0, text: null, showLabel: false,
      inRange: { color: ['#4575B4', '#91BFDB', '#E0F3F8', '#FFFFBF', '#FEE090', '#FC8D59', '#D73027'] } },
    { type: 'continuous', seriesIndex: eSeriesIndex, dimension: 2, min: 0, max: 0.15, show: true, calculable: false,
      left: 340, top: 494, itemWidth: 4, itemHeight: 26, padding: 0, text: null,
      inRange: { color: ['#132B43', '#56B1F7'] } },
    { type: 'piecewise', seriesIndex: fSeriesIndex, dimension: 2, show: false,
      pieces: [{ value: 0, color: '#efefef' }, { value: 1, color: '#f89b57' }] }
  ],
  graphic: { elements: [
    letter('A', 3, 3), letter('B', 166, 3), letter('C', 378, 4), letter('D', 4, 239),
    letter('E', 4, 380), letter('F', 436, 380), letter('G', 12, 611), letter('H', 375, 611),
    note('Group', 30.7, 152, 9), note('Gene count', 340, 437, 6.5), note('-log(adjusted p value)', 340, 488, 6.5)
  ] },
  series: series
};
chart.setOption(option);

// F: term labels on top of columns, placed through the F axes
const fTop = chart.convertToPixel({ gridIndex: 10 }, [0, 0])[1];
const fCell = chart.convertToPixel({ gridIndex: 10 }, [0, 1])[1] - fTop;
const gridTopF = fTop - fCell / 2;
const fEls = [];
fTerms.forEach((t, i) => {
  const x = chart.convertToPixel({ gridIndex: 10 }, [i, 0])[0];
  const high = i % 2 === 0;
  const bottom = high ? gridTopF - 30 : gridTopF - 5;
  fEls.push({ type: 'text', id: 'fterm' + i, x: x, y: bottom,
    style: { text: t, align: 'center', verticalAlign: 'bottom', fontSize: 5.5, lineHeight: 5.4, fontWeight: 'bold', fill: '#1a1a1a', fontFamily: FONT } });
  if (high) fEls.push({ type: 'line', id: 'flead' + i, shape: { x1: x, y1: bottom + 1, x2: x, y2: gridTopF - 2 }, style: { stroke: '#333', lineWidth: 0.8 } });
});
chart.setOption({ graphic: { elements: fEls } });
</script>
</body>
</html>
